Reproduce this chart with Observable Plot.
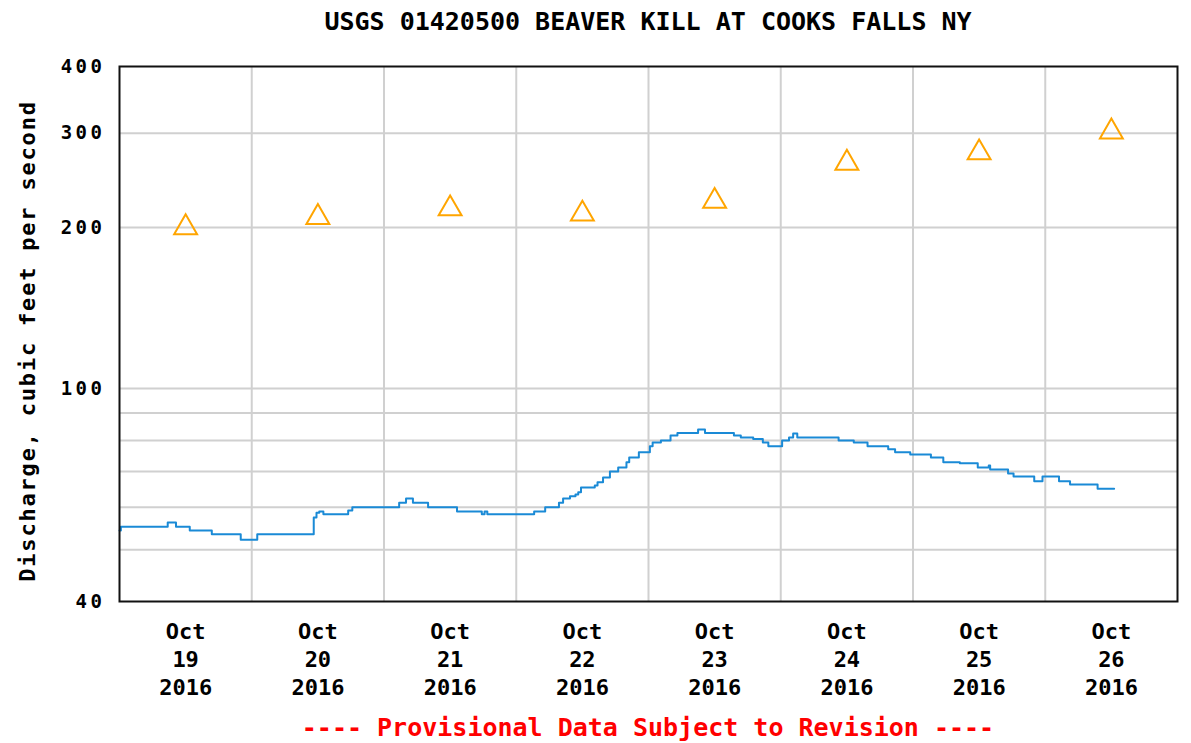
<!DOCTYPE html>
<html><head><meta charset="utf-8">
<script src="https://cdn.jsdelivr.net/npm/d3@7"></script>
<script src="https://cdn.jsdelivr.net/npm/@observablehq/plot@0.6"></script>
<style>
body{margin:0;background:#fff;width:1191px;overflow:hidden;}
.title{box-sizing:border-box;height:44px;line-height:46px;padding-left:119px;padding-right:14px;text-align:center;font:bold 25px "DejaVu Sans Mono",monospace;color:#000;white-space:pre;position:relative;top:7px;}
.foot{box-sizing:border-box;height:46px;line-height:46px;padding-left:119px;padding-right:14px;text-align:center;font:bold 25px "DejaVu Sans Mono",monospace;color:#ff0000;white-space:pre;position:relative;top:9px;}
#chart svg{display:block;}
#chart g[aria-label="y-axis tick label"] text{letter-spacing:3.5px;}
#chart g[aria-label="y-axis label"] text{letter-spacing:1.8px;}
</style>
</head><body>
<div class="title">USGS 01420500 BEAVER KILL AT COOKS FALLS NY</div>
<div id="chart"></div>
<div class="foot">---- Provisional Data Subject to Revision ----</div>
<script>
// Discharge (ft³/s), provisional, step changes
const flowTimes = [
 "2016-10-19T00:00Z","2016-10-19T00:15Z","2016-10-19T08:45Z","2016-10-19T10:15Z","2016-10-19T12:45Z",
 "2016-10-19T16:45Z","2016-10-19T22:00Z","2016-10-20T01:00Z","2016-10-20T11:15Z","2016-10-20T11:45Z",
 "2016-10-20T12:15Z","2016-10-20T13:00Z","2016-10-20T17:30Z","2016-10-20T18:15Z","2016-10-21T02:45Z",
 "2016-10-21T04:00Z","2016-10-21T05:15Z","2016-10-21T08:00Z","2016-10-21T13:15Z","2016-10-21T17:45Z",
 "2016-10-21T18:15Z","2016-10-21T18:45Z","2016-10-22T03:15Z","2016-10-22T05:15Z","2016-10-22T07:45Z",
 "2016-10-22T08:30Z","2016-10-22T09:45Z","2016-10-22T10:45Z","2016-10-22T11:15Z","2016-10-22T11:45Z",
 "2016-10-22T14:15Z","2016-10-22T14:45Z","2016-10-22T15:45Z","2016-10-22T17:00Z","2016-10-22T18:30Z",
 "2016-10-22T20:00Z","2016-10-22T20:30Z","2016-10-22T22:15Z","2016-10-23T00:15Z","2016-10-23T00:45Z",
 "2016-10-23T02:15Z","2016-10-23T04:00Z","2016-10-23T05:15Z","2016-10-23T09:00Z","2016-10-23T10:15Z",
 "2016-10-23T15:30Z","2016-10-23T16:45Z","2016-10-23T19:00Z","2016-10-23T20:45Z","2016-10-23T21:45Z",
 "2016-10-24T00:15Z","2016-10-24T01:30Z","2016-10-24T02:15Z","2016-10-24T03:00Z","2016-10-24T10:30Z",
 "2016-10-24T13:15Z","2016-10-24T15:45Z","2016-10-24T19:30Z","2016-10-24T20:45Z","2016-10-24T23:30Z",
 "2016-10-25T03:15Z","2016-10-25T05:30Z","2016-10-25T08:30Z","2016-10-25T11:45Z","2016-10-25T13:45Z",
 "2016-10-25T14:00Z","2016-10-25T17:15Z","2016-10-25T18:15Z","2016-10-25T22:00Z","2016-10-25T23:30Z",
 "2016-10-26T02:30Z","2016-10-26T04:30Z","2016-10-26T09:30Z","2016-10-26T12:30Z"
];
const flowValues = [
 54.3,55.2,56.2,55.2,54.3,
 53.4,52.2,53.4,57.4,58.6,
 58.9,58.2,59.2,60.0,61.2,
 62.3,61.2,60.0,58.9,58.2,
 58.9,58.2,58.9,60.0,61.2,
 62.3,62.9,63.4,64.0,65.3,
 65.9,66.8,68.2,70.0,71.2,
 72.8,74.3,76.0,78.0,79.3,
 80.0,81.7,82.6,83.9,82.6,
 81.7,81.0,80.5,79.3,78.0,
 80.0,81.0,82.4,81.0,80.0,
 79.3,78.0,77.0,76.0,75.3,
 74.3,72.8,72.5,71.2,71.8,
 70.6,69.4,68.5,67.1,68.5,
 67.1,66.2,65.0,65.0
];
// Median daily statistic (triangles), at noon of each day
const medianDays = ["2016-10-19T12:00Z","2016-10-20T12:00Z","2016-10-21T12:00Z","2016-10-22T12:00Z",
 "2016-10-23T12:00Z","2016-10-24T12:00Z","2016-10-25T12:00Z","2016-10-26T12:00Z"];
const medianValues = [200, 209, 217, 212, 224, 264, 276, 302];
const dayLabels = ["19","20","21","22","23","24","25","26"];
const yTickValues = [40, 100, 200, 300, 400];
const yGridValues = [50, 60, 70, 80, 90, 100, 200, 300];
const midnights = ["2016-10-20T00:00Z","2016-10-21T00:00Z","2016-10-22T00:00Z","2016-10-23T00:00Z",
 "2016-10-24T00:00Z","2016-10-25T00:00Z","2016-10-26T00:00Z"];

const flow = flowTimes.map((t, i) => ({date: new Date(t), value: flowValues[i]}));
const medians = medianDays.map((t, i) => ({date: new Date(t), value: medianValues[i]}));
const noonTicks = medianDays.map(t => new Date(t));
const gridX = midnights.map(t => new Date(t));

const chart = Plot.plot({
  width: 1191,
  height: 660,
  marginTop: 22,
  marginBottom: 103,
  marginLeft: 119,
  marginRight: 14,
  style: {fontFamily: "DejaVu Sans Mono, monospace", background: "#fff", color: "#000"},
  x: {type: "utc", domain: [new Date("2016-10-19T00:00Z"), new Date("2016-10-27T00:00Z")]},
  y: {type: "log", domain: [40, 400]},
  marks: [
    Plot.gridX(gridX, {stroke: "#d0d0d0", strokeOpacity: 1, strokeWidth: 2}),
    Plot.gridY(yGridValues, {stroke: "#d0d0d0", strokeOpacity: 1, strokeWidth: 2}),
    Plot.axisY(yTickValues, {
      tickSize: 0, tickPadding: 14, fontSize: 19, fontWeight: "bold",
      tickFormat: d => String(d),
      label: "Discharge, cubic feet per second", labelAnchor: "center", labelOffset: 100,
      labelArrow: "none"
    }),
    Plot.axisX(noonTicks, {
      tickSize: 0, tickPadding: 18, fontSize: 22, fontWeight: "bold", lineHeight: 1.27,
      tickFormat: (d, i) => "Oct\n" + dayLabels[i] + "\n2016",
      label: null
    }),
    Plot.line(flow, {x: "date", y: "value", curve: "step-after", stroke: "#1a8ad6", strokeWidth: 2}),
    Plot.dot(medians, {x: "date", y: "value", symbol: "triangle", r: 8.5, stroke: "#ffa500", strokeWidth: 2, fill: "none"}),
    Plot.frame({stroke: "#111", strokeWidth: 2})
  ]
});
document.getElementById("chart").appendChild(chart);
// y-axis label font
chart.querySelectorAll('g[aria-label="y-axis label"] text').forEach(t => {
  t.setAttribute("font-size", 22); t.setAttribute("font-weight", "bold"); t.setAttribute("dx", -7);
});
</script>
</body></html>
